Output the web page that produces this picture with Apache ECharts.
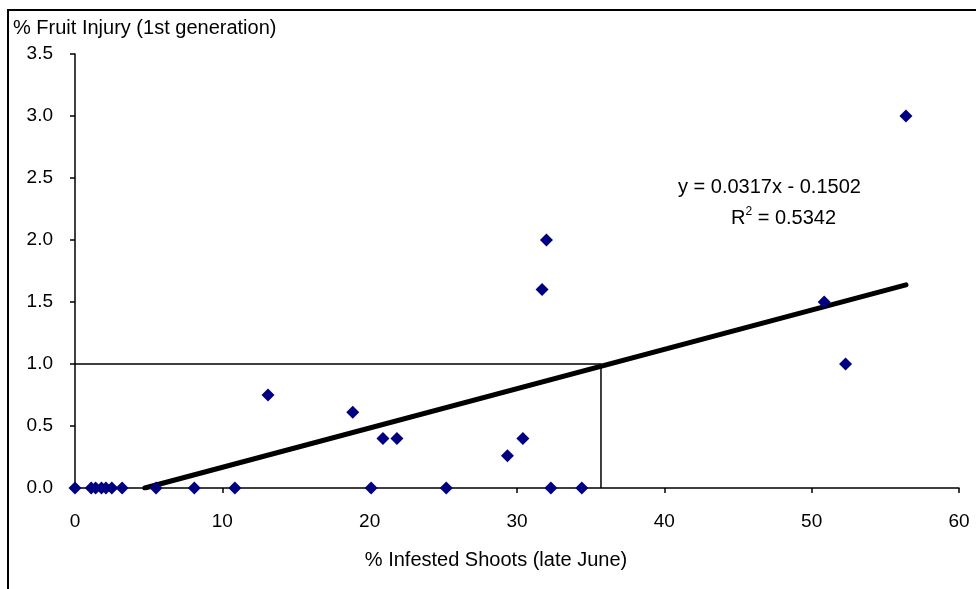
<!DOCTYPE html>
<html><head><meta charset="utf-8">
<script src="https://cdn.jsdelivr.net/npm/echarts@6/dist/echarts.min.js"></script>
<style>html,body{margin:0;padding:0;background:#fff}#c{width:976px;height:589px}</style>
</head><body><div id="c"></div>
<script>
const xTitle = '% Infested Shoots (late June)';
const yTitle = '% Fruit Injury (1st generation)';
const shootsPct = [0, 1.1, 1.4, 1.8, 2.1, 2.5, 3.2, 5.5, 8.1, 10.85, 13.1, 18.85, 20.1, 20.9, 21.85, 25.2, 29.35, 30.4, 31.7, 32.0, 32.3, 34.4, 50.85, 52.3, 56.4];
const injuryPct = [0, 0, 0, 0, 0, 0, 0, 0, 0, 0, 0.75, 0.61, 0, 0.40, 0.40, 0, 0.26, 0.40, 1.6, 2.0, 0, 0, 1.5, 1.0, 3.0];
const trendX = [4.74, 56.4];
const trendY = [0, 1.638];
const refX = [0, 35.7, 35.7];
const refY = [1, 1, 0];
const eqText = 'y = 0.0317x - 0.1502';
const r2Value = '0.5342';
const xTicks = [0, 10, 20, 30, 40, 50, 60];
const yTicks = [0, 0.5, 1.0, 1.5, 2.0, 2.5, 3.0, 3.5];

const font = 'Liberation Sans, Arial, sans-serif';
const fs = 20;
const tfs = 19;
const chart = echarts.init(document.getElementById('c'));
chart.setOption({
  animation: false,
  backgroundColor: '#fff',
  grid: {left: 75, right: 17, top: 54, bottom: 101},
  title: {text: yTitle, left: 8, top: 13, textStyle: {fontFamily: font, fontSize: fs, fontWeight: 'normal', color: '#000'}},
  graphic: [
    {type: 'rect', shape: {x: 8, y: 10, width: 1200, height: 1200}, style: {fill: 'none', stroke: '#000', lineWidth: 2}, silent: true, z: -1},
    {type: 'text', x: 678, y: 177, style: {text: eqText, font: fs + 'px ' + font, fill: '#000'}},
    {type: 'text', x: 731, y: 206, style: {text: '{r|R}{s|2}{r| = ' + r2Value + '}', rich: {r: {fontFamily: font, fontSize: fs, fill: '#000', verticalAlign: 'bottom'}, s: {fontFamily: font, fontSize: 12, fill: '#000', verticalAlign: 'top', padding: [0,0,10,0]}}}}
  ],
  xAxis: {
    type: 'value', min: xTicks[0], max: xTicks[xTicks.length - 1], interval: 10,
    name: xTitle, nameLocation: 'middle', nameGap: 62,
    nameTextStyle: {fontFamily: font, fontSize: fs, color: '#000', padding: [0, 42, 0, 0]},
    axisLine: {show: true, onZero: false, lineStyle: {color: '#000', width: 1.5}},
    axisTick: {show: true, length: 5, lineStyle: {color: '#000', width: 1.5}},
    axisLabel: {fontFamily: font, fontSize: tfs, color: '#000', margin: 24},
    splitLine: {show: false}
  },
  yAxis: {
    type: 'value', min: yTicks[0], max: yTicks[yTicks.length - 1], interval: 0.5,
    axisLine: {show: true, onZero: false, lineStyle: {color: '#000', width: 1.5}},
    axisTick: {show: true, length: 5, lineStyle: {color: '#000', width: 1.5}},
    axisLabel: {fontFamily: font, fontSize: tfs, color: '#000', margin: 22, formatter: v => v.toFixed(1)},
    splitLine: {show: false}
  },
  series: [
    {type: 'line', data: refX.map((x, i) => [x, refY[i]]), symbol: 'none', lineStyle: {color: '#000', width: 1.5}, z: 1},
    {type: 'line', data: trendX.map((x, i) => [x, trendY[i]]), symbol: 'none', lineStyle: {color: '#000', width: 5, cap: 'round'}, z: 2},
    {type: 'scatter', data: shootsPct.map((x, i) => [x, injuryPct[i]]), symbol: 'diamond', symbolSize: 13, itemStyle: {color: '#000080', opacity: 1}, z: 3}
  ]
});
</script></body></html>
